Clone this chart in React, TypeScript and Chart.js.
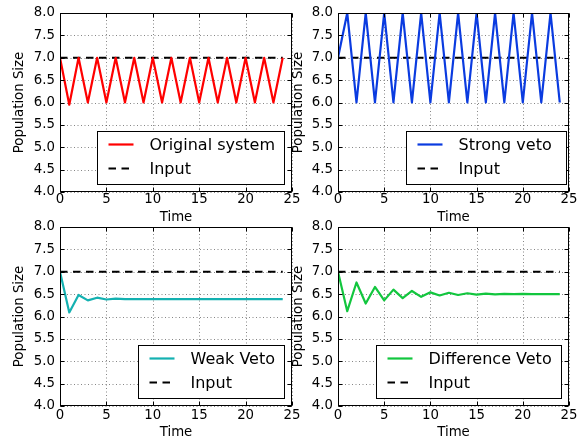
import React, { useEffect, useRef } from "react";
import { Chart, registerables } from "chart.js";

Chart.register(...registerables);

const times = [0, 1, 2, 3, 4, 5, 6, 7, 8, 9, 10, 11, 12, 13, 14, 15, 16, 17, 18, 19, 20, 21, 22, 23, 24];
const inputLevel = [7, 7, 7, 7, 7, 7, 7, 7, 7, 7, 7, 7, 7, 7, 7, 7, 7, 7, 7, 7, 7, 7, 7, 7, 7];
const originalSystem = [7, 5.95, 7, 6, 7, 6, 7, 6, 7, 6, 7, 6, 7, 6, 7, 6, 7, 6, 7, 6, 7, 6, 7, 6, 7];
const strongVeto = [7, 8, 6, 8, 6, 8, 6, 8, 6, 8, 6, 8, 6, 8, 6, 8, 6, 8, 6, 8, 6, 8, 6, 8, 6];
const weakVeto = [7, 6.09, 6.48, 6.36, 6.42, 6.38, 6.4, 6.39, 6.39, 6.39, 6.39, 6.39, 6.39, 6.39, 6.39, 6.39, 6.39, 6.39, 6.39, 6.39, 6.39, 6.39, 6.39, 6.39, 6.39];
const differenceVeto = [7, 6.12, 6.76, 6.29, 6.66, 6.36, 6.6, 6.41, 6.57, 6.44, 6.54, 6.47, 6.53, 6.48, 6.52, 6.49, 6.51, 6.495, 6.505, 6.5, 6.505, 6.5, 6.5, 6.5, 6.5];
const xTicks = [0, 5, 10, 15, 20, 25];
const yTicks = [4, 4.5, 5, 5.5, 6, 6.5, 7, 7.5, 8];

const FONT = "'DejaVu Sans', 'Liberation Sans', sans-serif";
const DASH = [7.5, 5.5];
const FS = 13.3;

type Spec = {
  label: string;
  values: number[];
  color: string;
  pad: { left: number; top: number; right: number; bottom: number };
  xAxisHeight: number;
  xTitlePad: number;
  xTickPad: number;
  yTitlePad: number;
  legendWidth: number;
  legendInset: number;
};

const decorPlugin = {
  id: "decor",
  beforeDatasetsDraw(chart: any) {
    const { ctx, chartArea: a, scales } = chart;
    const x = scales.x;
    const y = scales.y;
    ctx.save();
    ctx.strokeStyle = "rgba(0,0,0,0.6)";
    ctx.lineWidth = 0.8;
    ctx.setLineDash([1, 2.5]);
    ctx.beginPath();
    for (const t of xTicks) {
      const px = Math.round(x.getPixelForValue(t)) + 0.5;
      ctx.moveTo(px, a.top);
      ctx.lineTo(px, a.bottom);
    }
    for (const v of yTicks) {
      const py = Math.round(y.getPixelForValue(v)) + 0.5;
      ctx.moveTo(a.left, py);
      ctx.lineTo(a.right, py);
    }
    ctx.stroke();
    ctx.restore();
  },
  afterDatasetsDraw(chart: any, _args: any, opts: any) {
    const { ctx, chartArea: a, scales } = chart;
    const x = scales.x;
    const y = scales.y;
    const L = Math.round(a.left) + 0.5;
    const T = Math.round(a.top) + 0.5;
    const R = Math.round(a.right) - 0.5;
    const B = Math.round(a.bottom) - 0.5;
    ctx.save();
    ctx.setLineDash([]);
    ctx.strokeStyle = "#000";
    ctx.lineWidth = 1;
    ctx.strokeRect(L, T, R - L, B - T);
    ctx.beginPath();
    for (const t of xTicks) {
      const px = Math.round(x.getPixelForValue(t)) + 0.5;
      ctx.moveTo(px, B);
      ctx.lineTo(px, B - 4);
      ctx.moveTo(px, T);
      ctx.lineTo(px, T + 4);
    }
    for (const v of yTicks) {
      const py = Math.round(y.getPixelForValue(v)) + 0.5;
      ctx.moveTo(L, py);
      ctx.lineTo(L + 4, py);
      ctx.moveTo(R, py);
      ctx.lineTo(R - 4, py);
    }
    ctx.stroke();

    // legend
    const w = opts.width;
    const h = 53;
    const bx = Math.round(a.right - opts.inset - w) + 0.5;
    const by = Math.round(a.bottom - 8 - h) + 0.5;
    ctx.fillStyle = "#fff";
    ctx.fillRect(bx, by, w, h);
    ctx.strokeStyle = "#000";
    ctx.lineWidth = 1;
    ctx.strokeRect(bx, by, w, h);
    const rows = [
      { text: opts.label, color: opts.color, dash: [] as number[] },
      { text: "Input", color: "#000", dash: DASH },
    ];
    ctx.font = `16px ${FONT}`;
    ctx.textBaseline = "middle";
    ctx.textAlign = "left";
    rows.forEach((r, i) => {
      const ry = by + 13 + i * 24;
      ctx.beginPath();
      ctx.setLineDash(r.dash);
      ctx.strokeStyle = r.color;
      ctx.lineWidth = 2.2;
      ctx.moveTo(bx + 11, ry);
      ctx.lineTo(bx + 36, ry);
      ctx.stroke();
      ctx.setLineDash([]);
      ctx.fillStyle = "#000";
      ctx.fillText(r.text, bx + 52, ry + 1);
    });
    ctx.restore();
  },
};

function makeConfig(s: Spec): any {
  return {
    type: "line",
    data: {
      datasets: [
        {
          label: s.label,
          data: times.map((t, i) => ({ x: t, y: s.values[i] })),
          borderColor: s.color,
          borderWidth: 2.2,
          pointRadius: 0,
          tension: 0,
          borderJoinStyle: "round",
          clip: 0,
        },
        {
          label: "Input",
          data: times.map((t, i) => ({ x: t, y: inputLevel[i] })),
          borderColor: "#000",
          borderWidth: 2.2,
          borderDash: DASH,
          pointRadius: 0,
          tension: 0,
          clip: 0,
        },
      ],
    },
    options: {
      animation: false,
      responsive: false,
      events: [],
      layout: { padding: s.pad },
      plugins: {
        legend: { display: false },
        tooltip: { enabled: false },
        decor: { width: s.legendWidth, inset: s.legendInset, label: s.label, color: s.color },
      },
      scales: {
        x: {
          type: "linear",
          min: 0,
          max: 25,
          grid: { display: false, drawTicks: false },
          border: { display: false },
          ticks: {
            stepSize: 5,
            autoSkip: false,
            maxRotation: 0,
            padding: s.xTickPad,
            color: "#000",
            font: { family: FONT, size: FS },
          },
          title: {
            display: true,
            text: "Time",
            color: "#000",
            font: { family: FONT, size: FS },
            padding: { top: 0, bottom: s.xTitlePad },
          },
          afterFit: (scale: any) => {
            scale.height = s.xAxisHeight;
          },
        },
        y: {
          type: "linear",
          min: 4,
          max: 8,
          grid: { display: false, drawTicks: false },
          border: { display: false },
          ticks: {
            stepSize: 0.5,
            padding: 5,
            color: "#000",
            font: { family: FONT, size: FS },
            callback: (v: number) => v.toFixed(1),
          },
          title: {
            display: true,
            text: "Population Size",
            color: "#000",
            font: { family: FONT, size: FS },
            padding: { top: s.yTitlePad, bottom: 0 },
          },
          afterFit: (scale: any) => {
            scale.width = 60;
          },
        },
      },
    },
    plugins: [decorPlugin],
  };
}

const specs: Spec[] = [
  {
    label: "Original system",
    values: originalSystem,
    color: "#ff0000",
    pad: { left: 0, top: 13, right: 291, bottom: 211 },
    xAxisHeight: 40,
    xTitlePad: 6,
    xTickPad: 0,
    yTitlePad: 11.5,
    legendWidth: 187,
    legendInset: 8,
  },
  {
    label: "Strong veto",
    values: strongVeto,
    color: "#0a3be0",
    pad: { left: 278, top: 13, right: 14, bottom: 211 },
    xAxisHeight: 40,
    xTitlePad: 6,
    xTickPad: 0,
    yTitlePad: 12.8,
    legendWidth: 160,
    legendInset: 2.6,
  },
  {
    label: "Weak Veto",
    values: weakVeto,
    color: "#14b1b1",
    pad: { left: 0, top: 227, right: 291, bottom: 0 },
    xAxisHeight: 37,
    xTitlePad: 2,
    xTickPad: 2,
    yTitlePad: 11.5,
    legendWidth: 146,
    legendInset: 8,
  },
  {
    label: "Difference Veto",
    values: differenceVeto,
    color: "#12c63e",
    pad: { left: 278, top: 227, right: 14, bottom: 0 },
    xAxisHeight: 37,
    xTitlePad: 2,
    xTickPad: 2,
    yTitlePad: 12.8,
    legendWidth: 185,
    legendInset: 8,
  },
];

export default function App() {
  const refs = [useRef<HTMLCanvasElement>(null), useRef<HTMLCanvasElement>(null), useRef<HTMLCanvasElement>(null), useRef<HTMLCanvasElement>(null)];
  useEffect(() => {
    const charts = specs.map((s, i) => new Chart(refs[i].current as HTMLCanvasElement, makeConfig(s)));
    return () => charts.forEach((c) => c.destroy());
  }, []);
  return (
    <div style={{ position: "fixed", left: 0, top: 0, width: 583, height: 443, background: "#fff" }}>
      {refs.map((r, i) => (
        <canvas
          key={i}
          ref={r}
          width={583}
          height={443}
          style={{ position: "absolute", left: 0, top: 0, width: 583, height: 443 }}
        />
      ))}
    </div>
  );
}
